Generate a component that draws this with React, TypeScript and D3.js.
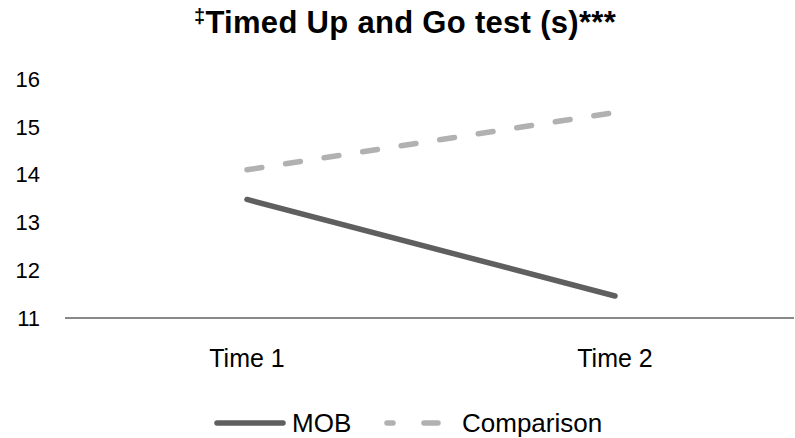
import React from "react";
import * as d3 from "d3";

const categories = ["Time 1", "Time 2"];
const mobValues = [13.48, 11.46];
const comparisonValues = [14.1, 15.3];
const yTicks = [11, 12, 13, 14, 15, 16];
const seriesNames = ["MOB", "Comparison"];

const W = 795;
const H = 438;

export default function App() {
  const x = d3.scalePoint<string>().domain(categories).range([63, 799]).padding(0.5);
  const y = d3.scaleLinear().domain([11, 16]).range([318, 79]);
  const line = d3
    .line<number>()
    .x((_, i) => x(categories[i]) as number)
    .y((d) => y(d));

  const font = "'Liberation Sans', Arial, sans-serif";
  return (
    <svg
      width={W}
      height={H}
      style={{ position: "absolute", left: 0, top: 0, background: "#fff" }}
      fontFamily={font}
    >
      <text x={405} y={33} textAnchor="middle" fontSize={31} fontWeight="bold" fill="#000" letterSpacing={0.3}>
        <tspan fontSize={20} dy={-10}>‡</tspan>
        <tspan dy={10}>Timed Up and Go test (s)***</tspan>
      </text>
      {yTicks.map((t) => (
        <text key={t} x={40} y={y(t)} dy="0.35em" textAnchor="end" fontSize={22} fill="#000">
          {t}
        </text>
      ))}
      <line x1={65} x2={794} y1={y(11)} y2={y(11)} stroke="#898989" strokeWidth={2} />
      {categories.map((c) => (
        <text key={c} x={x(c)} y={367} textAnchor="middle" fontSize={25} fill="#000">
          {c}
        </text>
      ))}
      <path
        d={line(comparisonValues) || ""}
        fill="none"
        stroke="#b1b1b1"
        strokeWidth={5.5}
        strokeLinecap="round"
        strokeDasharray="15 24"
      />
      <path
        d={line(mobValues) || ""}
        fill="none"
        stroke="#5f5f5f"
        strokeWidth={5.5}
        strokeLinecap="round"
      />
      <g>
        <line x1={217} x2={283} y1={423} y2={423} stroke="#5f5f5f" strokeWidth={5.5} strokeLinecap="round" />
        <text x={292} y={432} fontSize={26} fill="#000">{seriesNames[0]}</text>
        <line x1={387} x2={393} y1={423} y2={423} stroke="#b1b1b1" strokeWidth={5.5} strokeLinecap="round" />
        <line x1={424} x2={438} y1={423} y2={423} stroke="#b1b1b1" strokeWidth={5.5} strokeLinecap="round" />
        <text x={462} y={432} fontSize={26} fill="#000">{seriesNames[1]}</text>
      </g>
    </svg>
  );
}
